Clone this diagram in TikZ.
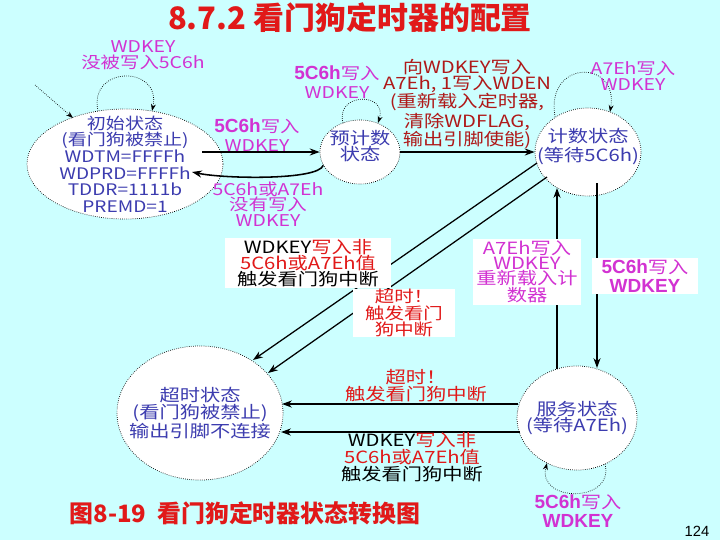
\documentclass[tikz,border=0pt]{standalone}
\usepackage{fontspec}
\setmainfont{Noto Sans CJK SC}[FakeStretch=1.2]
\newfontfamily\titlefont{Noto Sans CJK SC}
\newfontfamily\arialfont{Liberation Sans}
\usetikzlibrary{arrows.meta,calc,shapes.geometric}
\definecolor{WDBg}{RGB}{204,255,255}
\definecolor{WDBlue}{RGB}{60,60,175}
\definecolor{WDPink}{RGB}{210,50,210}
\definecolor{WDRed}{RGB}{225,25,25}
\definecolor{WDDark}{RGB}{175,25,25}
\newcommand{\wdbold}[1]{{\arialfont\bfseries\fontsize{13.5}{13}\selectfont #1}}

\begin{document}
\begin{tikzpicture}[x=0.025cm,y=-0.025cm,
    state/.style={ellipse,draw,densely dotted,line width=0.5pt,fill=white,inner sep=0pt},
    stxt/.style={text=WDBlue,align=center,font=\fontsize{12}{11.8}\selectfont},
    lbl/.style={text=WDPink,align=center,font=\fontsize{11.5}{11}\selectfont},
    wbox/.style={fill=white,align=center,inner sep=0pt},
    arr/.style={line width=1.1pt,-{Stealth[length=7pt,width=5pt]}},
    selfloop/.style={densely dotted,line width=0.5pt,-{Stealth[length=5pt,width=3.5pt]}}]
  \fill[WDBg] (0,0) rectangle (720,540);
  \useasboundingbox (0,0) rectangle (720,540);
  \node[text=WDRed,font=\titlefont\fontsize{22}{22}\selectfont\bfseries] (title) at (350,18) {8.7.2 看门狗定时器的配置};
  % states
  \foreach \n/\x/\y/\w/\h in {init/125/164/4.9/2.75, pre/360/152/2.0/1.6, count/588/152/2.65/2.2,
      tmo/200/413/4.15/3.35, serv/577/418/3.0/2.6}
    \node[state,minimum width=\w cm,minimum height=\h cm] (\n) at (\x,\y) {};
  \node[stxt,font=\fontsize{11.3}{11.8}\selectfont] at (init) {初始状态\\(看门狗被禁止)\\WDTM=FFFFh\\WDPRD=FFFFh\\TDDR=1111b\\PREMD=1};
  \node[stxt] at ($(pre)+(0,-6)$) {预计数\\状态};
  \node[stxt,font=\fontsize{12}{13.5}\selectfont] at ($(count)+(0,-5)$) {计数状态\\(等待5C6h)};
  \node[stxt] at (tmo) {超时状态\\(看门狗被禁止)\\输出引脚不连接};
  \node[stxt] at (serv) {服务状态\\(等待A7Eh)};
  % transitions
  \draw[arr] ($(init)+(77,-12)$) -- (pre.west);
  \draw[arr] (pre.200) .. controls ($(pre.200)+(-5,15)$) and ($(init)+(100,15)$) .. ($(init)+(67,8)$);
  \draw[arr] (pre.east) -- (count.west);
  \draw[arr,line width=0.9pt] ($(count)+(-51,11)$) -- ($(tmo)+(53,-53)$);
  \draw[arr,line width=0.9pt] ($(count)+(-41,25)$) -- ($(tmo)+(68,-40)$);
  \draw[arr] ($(serv)+(-20,-49)$) -- ($(count)+(-31,36)$);
  \draw[arr] ($(count)+(9,31)$) -- ($(serv)+(20,-50)$);
  \draw[arr] ($(serv)+(-59,-14)$) -- ($(tmo)+(82,-9)$);
  \draw[arr] ($(serv)+(-57,14)$) -- ($(tmo)+(81,19)$);
  % self loops
  \coordinate (entry) at (35,85);
  \draw[selfloop] (entry) -- ($(init)+(-52,-46)$);
  \draw[selfloop] ($(init)+(-27,-53)$) .. controls ($(init)+(-37,-99)$) and ($(init)+(37,-99)$) .. ($(init)+(27,-53)$);
  \draw[selfloop] ($(pre)+(-17,-29)$) .. controls ($(pre)+(-25,-60)$) and ($(pre)+(28,-60)$) .. ($(pre)+(18,-29)$);
  \draw[selfloop] ($(count)+(-33,-35)$) .. controls ($(count)+(-43,-93)$) and ($(count)+(31,-93)$) .. ($(count)+(22,-40)$);
  \draw[selfloop] ($(serv)+(28,46)$) .. controls ($(serv)+(38,85)$) and ($(serv)+(-40,85)$) .. ($(serv)+(-30,45)$);
  % labels
  \node[lbl] (lblinit) at (143,55) {WDKEY\\没被写入5C6h};
  \node[lbl,font=\fontsize{11.5}{13.5}\selectfont] (lblgo) at (257,135) {\wdbold{5C6h}写入\\WDKEY};
  \node[lbl] (lblback) at (268,204) {5C6h或A7Eh\\没有写入\\WDKEY};
  \node[lbl,font=\fontsize{11.5}{13.5}\selectfont] (lblpre) at (337,82) {\wdbold{5C6h}写入\\WDKEY};
  \node[lbl,text=WDDark,font=\fontsize{12}{11.4}\selectfont] (lblstart) at (467,104)
    {向WDKEY写入\\A7Eh, 1写入WDEN\\(重新载入定时器,\\清除WDFLAG,\\输出引脚使能)};
  \node[lbl] (lblcount) at (633,76) {A7Eh写入\\WDKEY};
  \node[wbox,font=\fontsize{12}{11.4}\selectfont,minimum width=4.125cm,minimum height=1.25cm] (boxbad) at (308,263)
    {WDKEY\textcolor{WDRed}{写入非}\\\textcolor{WDRed}{5C6h或A7Eh值}\\触发看门狗中断};
  \node[wbox,text=WDRed,font=\fontsize{11.5}{10}\selectfont,minimum width=2.55cm,minimum height=1.075cm] (boxtime) at (404,313)
    {超时！\\触发看门\\狗中断};
  \node[wbox,text=WDPink,font=\fontsize{12}{10.8}\selectfont,minimum width=2.675cm,minimum height=1.625cm] (boxreload) at (527,272)
    {A7Eh写入\\WDKEY\\重新载入计\\数器};
  \node[wbox,text=WDPink,font=\fontsize{12}{13.5}\selectfont,minimum width=2.625cm,minimum height=0.9cm] (boxserv) at (645,276)
    {\wdbold{5C6h}写入\\\wdbold{WDKEY}};
  \node[align=center,text=WDRed,font=\fontsize{12}{10.8}\selectfont] (lbltime) at (416,386) {超时！\\触发看门狗中断};
  \node[align=center,font=\fontsize{12}{10.8}\selectfont] (lblbad) at (412,457)
    {WDKEY\textcolor{WDRed}{写入非}\\\textcolor{WDRed}{5C6h或A7Eh值}\\触发看门狗中断};
  \node[lbl,font=\fontsize{12}{13.5}\selectfont] (lblserv) at (578,511) {\wdbold{5C6h}写入\\\wdbold{WDKEY}};
  \node[text=WDRed,font=\titlefont\fontsize{17}{17}\selectfont\bfseries] (caption) at (245,513) {图8-19\ \ 看门狗定时器状态转换图};
  \node[font=\arialfont\fontsize{10.5}{10.5}\selectfont] (page) at (697,531) {124};
\end{tikzpicture}
\end{document}
